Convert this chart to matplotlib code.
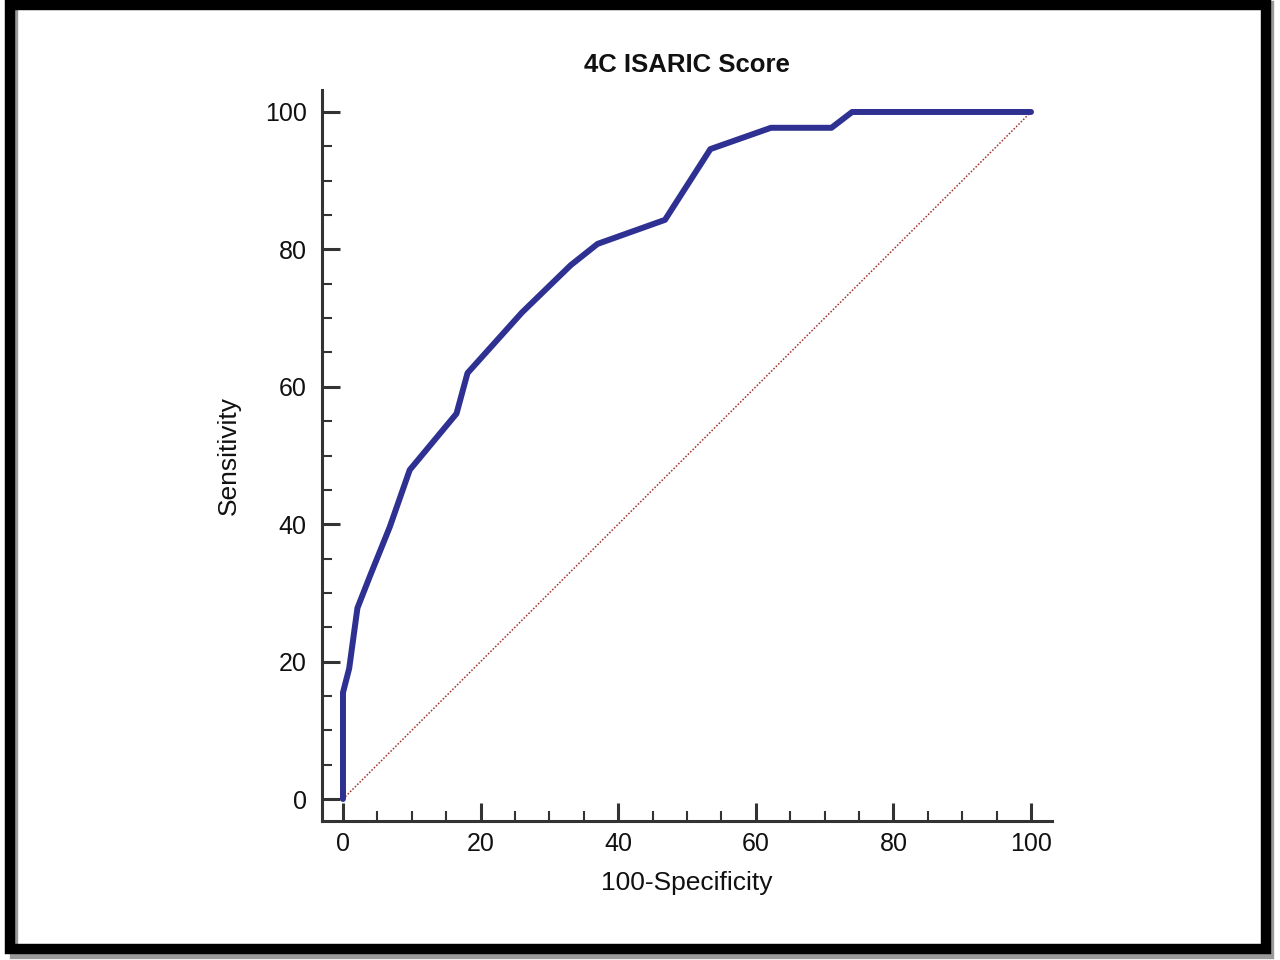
import matplotlib
matplotlib.use("Agg")
import matplotlib.pyplot as plt
from matplotlib.patches import Rectangle
from matplotlib.ticker import MultipleLocator

plt.rcParams['font.family'] = ['Liberation Sans', 'DejaVu Sans']

# ROC curve
fpr = [0, 0, 0.9, 2.1, 3.9, 6.8, 9.7, 16.5, 18.1, 26.0, 33.1, 37.0, 46.8, 53.4, 62.2, 71.0, 74.0, 100]
sens = [0, 15.5, 19.0, 27.8, 32.4, 39.6, 47.9, 56.1, 62.0, 70.8, 77.7, 80.8, 84.3, 94.6, 97.7, 97.7, 100, 100]
diag_x = [0, 100]
diag_y = [0, 100]
ticks = [0, 20, 40, 60, 80, 100]

title = "4C ISARIC Score"
xlabel = "100-Specificity"
ylabel = "Sensitivity"

fig = plt.figure(figsize=(12.8, 9.6), dpi=100)
fig.patch.set_facecolor('white')

# outer frame with slight shadow
fig.patches.append(Rectangle((14 / 1280, 1 - 955 / 960), 1256 / 1280, 950 / 960,
                             transform=fig.transFigure, fill=False,
                             edgecolor='#9a9a9a', linewidth=6, zorder=0))
fig.patches.append(Rectangle((10 / 1280, 1 - 949 / 960), 1256 / 1280, 944 / 960,
                             transform=fig.transFigure, fill=False,
                             edgecolor='black', linewidth=7.5, zorder=1))

ax = fig.add_axes([322 / 1280, 1 - 821 / 960, (1052 - 322) / 1280, (821 - 90) / 960])
ax.plot(diag_x, diag_y, color='#a0302a', linestyle=(0, (1, 1.2)), linewidth=1.1, zorder=2)
ax.plot(fpr, sens, color='#2e3192', linewidth=4.3, solid_joinstyle='round',
        solid_capstyle='round', zorder=3)

ax.set_xlim(-3.05, 103.05)
ax.set_ylim(-3.2, 103.2)
for s in ['top', 'right']:
    ax.spines[s].set_visible(False)
for s in ['left', 'bottom']:
    ax.spines[s].set_color('#333333')
    ax.spines[s].set_linewidth(2.2)

ax.set_xticks(ticks)
ax.set_yticks(ticks)
ax.xaxis.set_minor_locator(MultipleLocator(5))
ax.yaxis.set_minor_locator(MultipleLocator(5))
ax.tick_params(which='major', direction='in', length=13, width=2.2, color='#333333',
               labelsize=18, labelcolor='#111111')
ax.tick_params(which='minor', direction='in', length=7, width=1.5, color='#333333')
ax.tick_params(axis='x', which='major', pad=8)
ax.tick_params(axis='y', which='major', pad=11)

ax.set_xlabel(xlabel, fontsize=19, color='#111111', labelpad=11)
ax.set_ylabel(ylabel, fontsize=19, color='#111111', labelpad=17)
ax.set_title(title, fontsize=18.5, fontweight='bold', color='#111111', pad=13)

fig.savefig('out.png', dpi=100)
